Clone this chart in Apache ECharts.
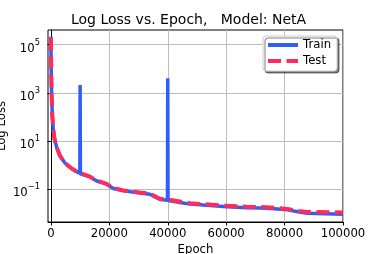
<!DOCTYPE html>
<html>
<head>
<meta charset="utf-8">
<script src="https://cdn.jsdelivr.net/npm/echarts@6/dist/echarts.min.js"></script>
<style>html,body{margin:0;padding:0;background:#fff}#c{width:382px;height:254px}</style>
</head>
<body>
<div id="c"></div>
<script>
const epochs = [0, 100, 250, 500, 800, 1200, 2000, 3100, 4800, 7000, 8800, 9900, 10000, 10100, 13400, 15700, 19100, 21400, 24800, 30500, 33900, 35600, 37400, 39900, 40000, 40100, 44200, 47600, 52200, 60200, 67000, 71600, 75300, 81000, 83200, 85500, 87800, 100000];
const trainLoss = [2.14e5, 7.9e3, 794, 100, 31.6, 12.6, 5.25, 2.40, 1.20, 0.708, 0.525, 0.447, 2090, 0.427, 0.316, 0.214, 0.158, 0.105, 0.0832, 0.0676, 0.0603, 0.0468, 0.0363, 0.0339, 3980, 0.0331, 0.0275, 0.0234, 0.0214, 0.0182, 0.0166, 0.0162, 0.0155, 0.0135, 0.0120, 0.0107, 0.00977, 0.00891];
const testLoss = [2.0e5, 7.9e3, 794, 100, 31.6, 12.6, 5.25, 2.40, 1.20, 0.724, 0.537, 0.468, 0.457, 0.447, 0.324, 0.224, 0.162, 0.110, 0.0871, 0.0708, 0.0631, 0.0501, 0.0389, 0.0363, 0.0363, 0.0355, 0.0302, 0.0257, 0.0234, 0.0200, 0.0182, 0.0178, 0.0170, 0.0148, 0.0132, 0.0117, 0.0110, 0.0105];
const xTicks = [0, 20000, 40000, 60000, 80000, 100000];
const yTicks = [0.1, 10, 1000, 100000];
const seriesNames = ['Train', 'Test'];
const titleText = 'Log Loss vs. Epoch,   Model: NetA';

const FONT = 'DejaVu Sans';
const chart = echarts.init(document.getElementById('c'), null, {renderer: 'canvas'});
const pair = (ys) => epochs.map((e, i) => [e, ys[i]]);
chart.setOption({
  animation: false,
  backgroundColor: '#fff',
  textStyle: {fontFamily: FONT},
  title: {
    text: titleText, left: 71, top: 13, padding: 0,
    textStyle: {fontFamily: FONT, fontSize: 14, fontWeight: 'normal', color: '#000'}
  },
  legend: {
    data: seriesNames, orient: 'vertical', left: 263, top: 36,
    padding: [3, 6, 4, 3], itemGap: 4, itemWidth: 30, itemHeight: 14,
    backgroundColor: '#fff', borderColor: '#cccccc', borderWidth: 1, borderRadius: 3,
    shadowColor: 'rgba(0,0,0,0.5)', shadowBlur: 0, shadowOffsetX: 2, shadowOffsetY: 2,
    itemStyle: {opacity: 0, borderWidth: 0},
    lineStyle: {width: 4},
    textStyle: {fontFamily: FONT, fontSize: 11.7, color: '#000'}
  },
  grid: {left: 48, top: 30, width: 295, height: 192, show: true, borderColor: '#000', borderWidth: 1,
         containLabel: false, outerBoundsMode: 'none'},
  xAxis: {
    type: 'value', min: -1000, max: 100000,
    name: 'Epoch', nameLocation: 'middle', nameGap: 22, nameMoveOverlap: false,
    nameTextStyle: {fontFamily: FONT, fontSize: 11.7, color: '#000'},
    axisLine: {lineStyle: {color: '#000', width: 1}},
    axisTick: {show: true, length: 3.5, lineStyle: {color: '#000'}, customValues: xTicks},
    axisLabel: {customValues: xTicks, margin: 6, fontFamily: FONT, fontSize: 11.7, color: '#000',
                formatter: (v) => String(v)},
    splitLine: {show: true, lineStyle: {color: '#bdbdbd', width: 1}}
  },
  yAxis: {
    type: 'log', logBase: 10, min: 0.004217, max: 409700,
    name: 'Log Loss', nameLocation: 'middle', nameGap: 40, nameRotate: 90, nameMoveOverlap: false,
    nameTextStyle: {fontFamily: FONT, fontSize: 11.7, color: '#000'},
    axisLine: {show: true, lineStyle: {color: '#000', width: 1}},
    axisTick: {show: true, length: 3.5, lineStyle: {color: '#000'}, customValues: yTicks},
    axisLabel: {
      customValues: yTicks, margin: 8, padding: [4, 0, 0, 0],
      formatter: function (v) {
        const e = Math.round(Math.log10(v));
        return '{b|10}{s|' + (e < 0 ? '\u2212' + (-e) : e) + '}';
      },
      rich: {
        b: {fontFamily: FONT, fontSize: 11.7, color: '#000', lineHeight: 16, verticalAlign: 'bottom'},
        s: {fontFamily: FONT, fontSize: 8.3, color: '#000', lineHeight: 4, verticalAlign: 'top'}
      }
    },
    splitLine: {show: true, lineStyle: {color: '#bdbdbd', width: 1}}
  },
  series: [
    {name: seriesNames[0], type: 'line', data: pair(trainLoss), showSymbol: false, symbol: 'none',
     color: '#2f5ef8', lineStyle: {width: 3.5, color: '#2f5ef8'}, z: 2},
    {name: seriesNames[1], type: 'line', data: pair(testLoss), showSymbol: false, symbol: 'none',
     color: '#ff2b5c', lineStyle: {width: 4, color: '#ff2b5c', type: [13, 5.5]}, z: 3}
  ]
});
</script>
</body>
</html>
